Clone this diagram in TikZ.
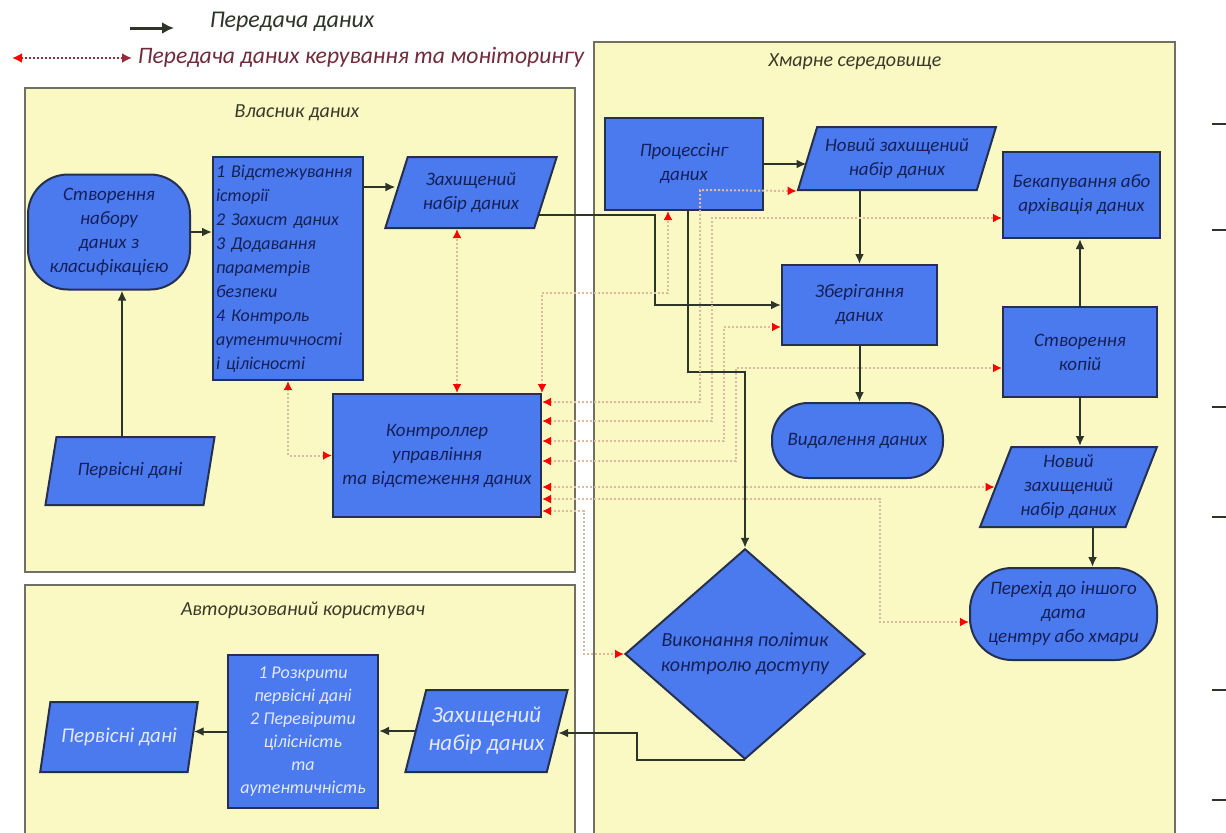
\documentclass[tikz,border=0pt]{standalone}
\usepackage{fontspec}
\setmainfont{Carlito}
\usetikzlibrary{arrows.meta,shapes.geometric}
\definecolor{paney}{RGB}{250,249,196}
\definecolor{frame}{RGB}{112,112,100}
\definecolor{nodeb}{RGB}{74,122,238}
\definecolor{edge}{RGB}{38,48,78}
\definecolor{ink}{RGB}{22,32,88}
\definecolor{pale}{RGB}{226,232,255}
\definecolor{darkl}{RGB}{45,52,40}
\definecolor{ctlc}{RGB}{222,186,160}
\definecolor{maroon}{RGB}{150,42,62}
\definecolor{legred}{RGB}{112,44,60}
\definecolor{title}{RGB}{58,58,40}

\begin{document}
\begin{tikzpicture}[x=0.5pt,y=-0.5pt,
      font=\itshape,
      box/.style={draw=edge,line width=1pt,fill=nodeb,text=ink,align=center,inner sep=2pt,
                  font=\fontsize{9.5}{12}\selectfont\itshape},
      term/.style={box,rounded corners=18pt},
      para/.style={box,trapezium,trapezium left angle=68,trapezium right angle=112,
                   trapezium stretches=true,inner sep=1pt},
      dia/.style={box,diamond,inner sep=0pt},
      light/.style={text=pale},
      panel/.style={draw=frame,line width=1pt,fill=paney},
      head/.style={text=title,font=\fontsize{10}{12}\selectfont\itshape},
      dat/.style={-{Latex[length=5pt,width=4.5pt]},line width=1pt,color=darkl},
      ctl/.style={{Latex[color=red,length=4.5pt,width=4.5pt]}-{Latex[color=red,length=4.5pt,width=4.5pt]},
                  densely dotted,line width=1pt,color=ctlc}]
      \useasboundingbox (0,0) rectangle (1226,832);
      \clip (0,0) rectangle (1226,832);
      \fill[white] (0,0) rectangle (1226,832);
      % legend
      \coordinate (l1a) at (130,28); \coordinate (l1b) at (174,28);
      \coordinate (l2a) at (12,58); \coordinate (l2b) at (132,58);
      \node[text=darkl,font=\fontsize{12}{14}\selectfont\itshape] (leg1) at (292,22) {Передача даних};
      \node[text=legred,font=\fontsize{11.8}{14}\selectfont\itshape] (leg2) at (361,57) {Передача даних керування та моніторингу};
      \draw[dat,line width=1.5pt,-{Latex[length=6pt,width=6pt]}] (l1a) -- (l1b);
      \draw[ctl,color=maroon,{Latex[color=red,length=5pt,width=5pt]}-{Latex[color=maroon,length=5pt,width=5pt]}] (l2a) -- (l2b);
      % panels
      \draw[panel] (25,88) rectangle (575,572);
      \draw[panel] (25,585) rectangle (575,850);
      \draw[panel] (594,42) rectangle (1175,850);
      \node[head] (own) at (297,113) {Власник даних};
      \node[head] (usr) at (303,610) {Авторизований користувач};
      \node[head] (cloud) at (855,62) {Хмарне середовище};
      % owner
      \node[term,minimum width=81pt,minimum height=57.5pt,rounded corners=20pt] (cr) at (109,232) {Створення\\набору\\даних з\\класифікацією};
      \node[box,minimum width=75pt,minimum height=111.5pt,text width=72pt,align=left,inner sep=1.5pt,
            font=\fontsize{9}{12}\selectfont\itshape] (steps) at (288,268.5)
           {1 Відстежування\\історії\\2 Захист даних\\3 Додавання\\параметрів\\безпеки\\4 Контроль\\аутентичності\\і цілісності};
      \node[para,minimum width=86pt,minimum height=35.5pt] (prot) at (471,192.5) {Захищений\\набір даних};
      \node[para,minimum width=85pt,minimum height=34pt] (orig) at (130,471) {Первісні дані};
      \node[box,minimum width=104pt,minimum height=61.5pt] (ctrl) at (437,455.5) {Контроллер\\управління\\та відстеження даних};
      % cloud
      \node[box,minimum width=79pt,minimum height=46pt] (proc) at (684,164) {Процессінг\\даних};
      \node[para,minimum width=100pt,minimum height=31.5pt] (newprot) at (897,158.5) {Новий захищений\\набір даних};
      \node[box,minimum width=78.5pt,minimum height=43pt] (backup) at (1081.5,195) {Бекапування або\\архівація даних};
      \node[box,minimum width=77.5pt,minimum height=40pt] (store) at (859.5,305) {Зберігання\\даних};
      \node[box,minimum width=77pt,minimum height=45pt] (copy) at (1080,352) {Створення\\копій};
      \node[term,minimum width=85.5pt,minimum height=37.5pt] (del) at (857.5,440.5) {Видалення даних};
      \node[para,minimum width=88.5pt,minimum height=40pt] (newprot2) at (1068.5,487) {Новий\\захищений\\набір даних};
      \node[term,minimum width=93.5pt,minimum height=46pt,rounded corners=21pt] (trans) at (1063.5,614) {Перехід до іншого\\дата\\центру або хмари};
      \node[dia,minimum width=120pt,minimum height=94pt,font=\fontsize{10}{12.5}\selectfont\itshape] (policy) at (745,654) {Виконання політик\\контролю доступу};
      % user
      \node[para,light,minimum width=79pt,minimum height=35pt,font=\fontsize{10.5}{12}\selectfont\itshape] (uorig) at (119,737) {Первісні дані};
      \node[box,light,minimum width=75pt,minimum height=76.5pt,font=\fontsize{9}{11.5}\selectfont\itshape] (usteps) at (303,731.5)
           {1 Розкрити\\первісні дані\\2 Перевірити\\цілісність\\та\\аутентичність};
      \node[para,light,minimum width=81.5pt,minimum height=41pt,font=\fontsize{11.5}{14}\selectfont\itshape] (uprot) at (486.5,731) {Захищений\\набір даних};
      % data
      \draw[dat] (cr.east) -- (cr.east -| steps.west);
      \draw[dat] ([yshift=40.75pt]steps.east) -- ([yshift=40.75pt]steps.east -| prot.west);
      \draw[dat] ([xshift=6.5pt]cr.south |- orig.north) -- ([xshift=6.5pt]cr.south);
      \draw[dat] ([yshift=-11pt,xshift=-4pt]prot.east) -| (655,305) -- (store.west);
      \draw[dat] (proc.east) -- (proc.east -| newprot.west);
      \draw[dat] (newprot.south -| store.north) -- (store.north);
      \draw[dat] (store.south) -- (store.south |- del.north);
      \draw[dat] (copy.north) -- (copy.north |- backup.south);
      \draw[dat] (copy.south) -- (copy.south |- newprot2.north);
      \draw[dat] ([xshift=12pt]newprot2.south) -- ([xshift=12pt]newprot2.south |- trans.north);
      \draw[dat] ([xshift=2pt]proc.south) |- (745,372) -- (policy.north);
      \draw[dat] (policy.south) -| (637,733) -- (uprot.east |- 637,733);
      \draw[dat] (uprot.west) -- (uprot.west -| usteps.east);
      \draw[dat] (usteps.west) -- (usteps.west -| uorig.east);
      % control
      \draw[ctl] ([xshift=10pt]ctrl.north) -- ([xshift=10pt]ctrl.north |- prot.south);
      \draw[ctl] (ctrl.west) -| (steps.south);
      \draw[ctl] (ctrl.north east) |- (668,293) -- ([xshift=-8pt]proc.south);
      \draw[ctl] ([yshift=-4.5pt]ctrl.north east) -| (700,190) -- (newprot.bottom left corner);
      \draw[ctl] ([yshift=-14pt]ctrl.north east) -| (712,218) -- ([yshift=-11.5pt]backup.west);
      \draw[ctl] ([yshift=-24pt]ctrl.north east) -| (724,327) -- ([yshift=-11pt]store.west);
      \draw[ctl] ([yshift=-34pt]ctrl.north east) -| (736,368) -- ([yshift=-8pt]copy.west);
      \draw[ctl] (ctrl.east |- newprot2.west) -- (newprot2.west);
      \draw[ctl] ([yshift=-53pt]ctrl.north east) -| (880,622) -- ([yshift=-4pt]trans.west);
      \draw[ctl] ([yshift=-59pt]ctrl.north east) -| (584,654) -- (policy.west);
      % page edge marks
      \foreach \y in {124,230,407,517,690,800}
        \draw[line width=1pt,color=darkl] (1212,\y) -- (1226,\y);
    \end{tikzpicture}
\end{document}
